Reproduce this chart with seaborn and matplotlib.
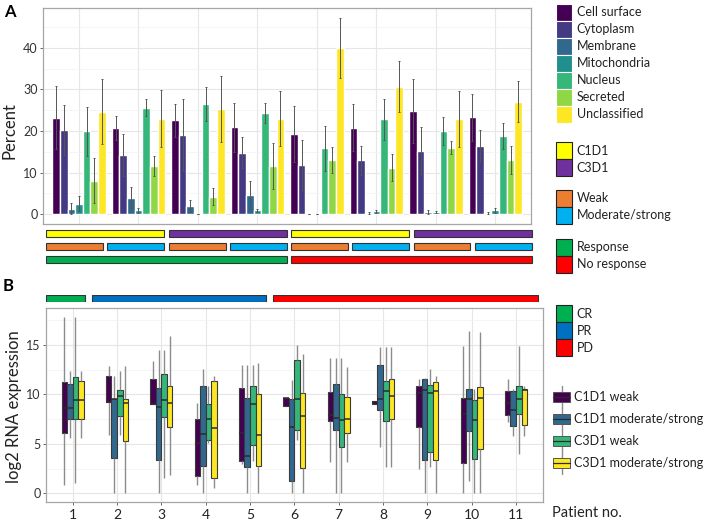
import numpy as np
import pandas as pd
import seaborn as sns
import matplotlib.pyplot as plt
from matplotlib.patches import Patch, Rectangle
from matplotlib.lines import Line2D
from matplotlib.ticker import MultipleLocator

# ---- panel A: predicted subcellular location, 8 sample groups ----
locations = ['Cell surface', 'Cytoplasm', 'Membrane', 'Mitochondria',
             'Nucleus', 'Secreted', 'Unclassified']
loc_colors = ['#440154', '#443A83', '#31688E', '#21908C', '#35B779', '#8FD744', '#FDE725']
sample_ids = ['1', '2', '3', '4', '5', '6', '7', '8']
visit = ['C1D1', 'C1D1', 'C3D1', 'C3D1', 'C1D1', 'C1D1', 'C3D1', 'C3D1']
staining = ['Weak', 'Moderate/strong'] * 4
response = ['Response'] * 4 + ['No response'] * 4

cell_surface = [23.2, 20.7, 22.6, 20.9, 19.3, 20.8, 24.8, 23.3]
cytoplasm = [20.3, 14.3, 19.1, 14.8, 11.8, 13.0, 15.3, 16.4]
membrane = [1.3, 4.0, 2.0, 4.6, 0.0, 0.3, 0.5, 0.3]
mitochondria = [2.5, 0.9, 0.0, 0.9, 0.0, 0.7, 0.5, 1.0]
nucleus = [19.9, 25.6, 26.6, 24.4, 15.9, 22.8, 20.0, 18.8]
secreted = [8.1, 11.6, 4.2, 11.6, 13.0, 11.2, 16.0, 13.0]
unclassified = [24.7, 23.0, 25.3, 23.0, 40.0, 30.7, 22.9, 27.1]

cell_surface_err = [7.6, 2.9, 4.0, 5.9, 6.7, 5.7, 7.7, 5.6]
cytoplasm_err = [6.0, 5.1, 8.7, 3.8, 6.1, 3.5, 5.6, 3.9]
membrane_err = [1.3, 2.6, 1.4, 3.4, 0.0, 0.3, 0.4, 0.2]
mitochondria_err = [1.8, 0.5, 0.0, 0.4, 0.0, 0.4, 0.3, 0.6]
nucleus_err = [5.8, 2.1, 4.1, 2.4, 5.4, 5.0, 3.4, 3.1]
secreted_err = [5.5, 2.5, 2.1, 5.5, 3.2, 3.2, 1.5, 3.4]
unclassified_err = [7.8, 6.8, 7.9, 6.7, 7.2, 6.1, 6.8, 4.9]

# ---- panel B: log2 RNA expression per patient, [min, q1, median, q3, max] ----
patients = ['1', '2', '3', '4', '5', '6', '7', '8', '9', '10', '11']
patient_response = ['CR', 'PR', 'PR', 'PR', 'PR', 'PD', 'PD', 'PD', 'PD', 'PD', 'PD']
box_groups = ['C1D1 weak', 'C1D1 moderate/strong', 'C3D1 weak', 'C3D1 moderate/strong']
box_colors = ['#440154', '#31688E', '#35B779', '#FDE725']

c1d1_weak = [[0.8, 6.15, 8.6, 11.25, 17.8], [5.9, 9.27, 9.27, 11.9, 12.9],
             [9.03, 9.03, 9.05, 11.6, 13.4], [0.8, 1.8, 5.05, 7.55, 9.1],
             [2.95, 3.25, 6.1, 10.6, 13.0], [8.8, 8.8, 9.6, 9.65, 9.65],
             [3.2, 7.3, 7.95, 10.25, 13.65], [9.0, 9.0, 9.2, 9.35, 9.35],
             [2.45, 6.7, 10.15, 10.85, 11.6], [0.0, 3.1, 8.05, 9.6, 14.9],
             [7.2, 7.9, 9.15, 10.35, 11.55]]
c1d1_mod = [[5.55, 7.55, 8.6, 11.05, 12.4], [0.0, 3.55, 9.5, 9.5, 11.9],
            [0.0, 3.35, 8.75, 10.65, 14.5], [0.0, 2.8, 6.0, 10.9, 12.6],
            [0.0, 2.7, 3.8, 9.65, 12.95], [0.0, 1.25, 6.7, 9.55, 11.5],
            [0.0, 6.4, 7.65, 11.05, 13.65], [4.7, 8.45, 9.5, 12.95, 14.75],
            [0.0, 3.4, 10.4, 11.6, 11.7], [1.25, 6.35, 9.5, 10.5, 16.4],
            [5.8, 6.8, 8.4, 10.3, 10.5]]
c3d1_weak = [[1.1, 7.55, 9.45, 11.8, 17.8], [5.9, 7.8, 9.8, 10.45, 12.35],
             [1.6, 7.7, 9.4, 12.05, 14.5], [5.05, 5.35, 7.55, 9.05, 10.9],
             [3.3, 4.9, 9.05, 10.9, 12.95], [5.35, 6.4, 9.5, 13.45, 15.0],
             [0.0, 4.65, 7.45, 10.0, 13.7], [2.7, 7.3, 10.35, 11.4, 14.75],
             [2.7, 4.15, 10.1, 10.95, 12.6], [0.0, 3.45, 7.45, 9.4, 10.5],
             [3.95, 8.0, 9.5, 10.85, 14.85]]
c3d1_mod = [[5.55, 7.55, 9.45, 11.4, 12.4], [0.0, 5.3, 9.15, 9.5, 12.85],
            [1.85, 6.7, 9.15, 10.85, 15.95], [0.5, 1.55, 6.6, 11.35, 11.9],
            [0.0, 2.8, 5.85, 10.0, 13.2], [0.0, 2.55, 7.85, 10.1, 14.1],
            [3.2, 6.1, 7.5, 9.7, 12.8], [2.7, 7.55, 9.8, 11.55, 14.75],
            [0.0, 3.4, 10.35, 11.3, 11.85], [0.0, 4.5, 9.6, 10.75, 16.35],
            [5.75, 6.95, 10.4, 10.55, 10.8]]

strip_colors = {'C1D1': '#FFFF00', 'C3D1': '#7030A0', 'Weak': '#ED7D31',
                'Moderate/strong': '#00B0F0', 'Response': '#00B050', 'No response': '#FF0000',
                'CR': '#00B050', 'PR': '#0070C0', 'PD': '#FF0000'}

# ---- long tables ----
means = [cell_surface, cytoplasm, membrane, mitochondria, nucleus, secreted, unclassified]
errs = [cell_surface_err, cytoplasm_err, membrane_err, mitochondria_err,
        nucleus_err, secreted_err, unclassified_err]
bar_df = pd.DataFrame([(s, loc, m[i]) for loc, m in zip(locations, means)
                       for i, s in enumerate(sample_ids)], columns=['sample', 'location', 'pct'])
box_df = pd.DataFrame([(p, g, v) for g, arr in zip(box_groups, [c1d1_weak, c1d1_mod, c3d1_weak, c3d1_mod])
                       for p, five in zip(patients, arr) for v in five],
                      columns=['patient', 'group', 'value'])

sns.set_style('white')
plt.rcParams['font.family'] = ['Lato', 'DejaVu Sans']
TXT = '#222222'
W, H = 707, 522
fig = plt.figure(figsize=(W / 100, H / 100), dpi=100)


def px_axes(left, top, right, bottom):
    return fig.add_axes([left / W, 1 - bottom / H, (right - left) / W, (bottom - top) / H])


def style_panel(ax, minor):
    ax.yaxis.set_minor_locator(MultipleLocator(minor))
    ax.grid(which='major', color='#E6E6E6', lw=0.8)
    ax.grid(which='minor', axis='y', color='#F2F2F2', lw=0.5)
    ax.set_axisbelow(True)
    for sp in ax.spines.values():
        sp.set_color('#A6A6A6'); sp.set_linewidth(0.9)
    ax.tick_params(axis='y', which='major', length=2.5, width=0.7, color='#666666',
                   labelsize=9, labelcolor='#333333', pad=1.5, left=True)
    ax.tick_params(which='minor', length=0)
    ax.set_xlabel(''); ax.set_ylabel('')


def draw_runs(ax, labels, row, gap, height):
    """One rectangle per run of equal consecutive labels."""
    start = 0
    for i in range(1, len(labels) + 1):
        if i == len(labels) or labels[i] != labels[start]:
            ax.barh(row, i - start - gap, left=start, height=height,
                    color=strip_colors[labels[start]], edgecolor='#333333', linewidth=0.8)
            start = i


# ---- panel A bars ----
axA = px_axes(43.3, 8, 531, 224)
sns.barplot(bar_df, x='sample', y='pct', hue='location', order=sample_ids, hue_order=locations,
            palette=loc_colors, width=0.9, saturation=1, errorbar=None, legend=False, ax=axA)
for cont, err, m in zip(axA.containers, errs, means):
    xs = [b.get_x() + b.get_width() / 2 for b in cont]
    axA.errorbar(xs, m, yerr=err, fmt='none', ecolor='#555555', elinewidth=0.7, capsize=1, capthick=0.7)
axA.set_xlim(-0.6, 7.6); axA.set_ylim(-2.36, 49.6)
axA.set_yticks([0, 10, 20, 30, 40])
style_panel(axA, 5)
axA.tick_params(axis='x', length=0, labelbottom=False)

# annotation strips under A
axS = px_axes(46.3, 227, 46.3 + 8 * 61.2, 266)
for row, labels in enumerate([visit, staining, response]):
    draw_runs(axS, labels, row, 0.07, 0.56)
axS.set_xlim(0, 8); axS.set_ylim(2.5, -0.5); axS.axis('off')

# ---- panel B boxes ----
axB = px_axes(46.1, 308.3, 542.6, 502.3)
sns.boxplot(box_df, x='patient', y='value', hue='group', order=patients, hue_order=box_groups,
            palette=box_colors, width=0.5, whis=(0, 100), showcaps=False, fliersize=0,
            saturation=1, linecolor='#3A3A3A', linewidth=0.8, legend=False,
            whiskerprops={'color': '#8C8C8C', 'linewidth': 1.0},
            medianprops={'color': '#2B2B2B', 'linewidth': 1.1}, ax=axB)
axB.set_xlim(-0.6, 10.6); axB.set_ylim(-0.9, 18.7)
axB.set_yticks([0, 5, 10, 15])
style_panel(axB, 2.5)
axB.tick_params(axis='x', length=2.5, width=0.7, color='#666666', labelsize=10,
                labelcolor='#222222', pad=2, bottom=True)

# response strip above B
axR = px_axes(46.3, 294.5, 46.3 + 11 * 45.3, 302)
draw_runs(axR, patient_response, 0, 0.144, 0.9)
axR.set_xlim(0, 11); axR.set_ylim(-0.5, 0.5); axR.axis('off')

# ---- labels ----
fig.text(9.5 / W, 1 - 12 / H, 'A', fontsize=12, fontweight='bold', color='black', ha='center', va='center')
fig.text(8.5 / W, 1 - 286 / H, 'B', fontsize=12, fontweight='bold', color='black', ha='center', va='center')
fig.text(10 / W, 1 - 131 / H, 'Percent', rotation=90, fontsize=12, color=TXT, ha='center', va='center')
fig.text(14 / W, 1 - 407 / H, 'log2 RNA expression', rotation=90, fontsize=12, color=TXT,
         ha='center', va='center')
fig.text(552 / W, 1 - 513 / H, 'Patient no.', fontsize=10.5, color=TXT, ha='left', va='center')


# ---- legends ----
class BoxKey:
    def __init__(self, color):
        self.color = color


class BoxKeyHandler:
    def legend_artist(self, legend, orig_handle, fontsize, handlebox):
        x0, y0 = -handlebox.xdescent, -handlebox.ydescent
        w, h = handlebox.width, handlebox.height
        tr = handlebox.get_transform()
        handlebox.add_artist(Line2D([x0 + w / 2] * 2, [y0, y0 + h], color='#8C8C8C', lw=1, transform=tr))
        handlebox.add_artist(Rectangle((x0, y0 + h * 0.27), w, h * 0.46, facecolor=orig_handle.color,
                                       edgecolor='#555555', lw=0.7, transform=tr))
        handlebox.add_artist(Line2D([x0, x0 + w], [y0 + h / 2] * 2, color='#2B2B2B', lw=0.9, transform=tr))
        return handlebox


FS = 9
fs_px = FS * 100 / 72


def key_height(px):
    # matplotlib handle box height = fs*hh - 0.35*fs*(hh - 0.7)
    return (px / fs_px - 0.245) / 0.65


leg_kw = dict(loc='upper left', frameon=False, borderpad=0, borderaxespad=0, fontsize=FS,
              labelspacing=0, handletextpad=4.4 / fs_px, labelcolor=TXT)


def add_legend(labels, colors, top, edge):
    handles = [Patch(facecolor=c, edgecolor=edge, linewidth=0.8) for c in colors]
    fig.legend(handles, labels, bbox_to_anchor=(555.7 / W, 1 - top / H),
               handlelength=16.7 / fs_px, handleheight=key_height(17), **leg_kw)


add_legend(locations, loc_colors, 3.7, 'white')
add_legend(['C1D1', 'C3D1'], [strip_colors['C1D1'], strip_colors['C3D1']], 142.3, '#222222')
add_legend(['Weak', 'Moderate/strong'], [strip_colors['Weak'], strip_colors['Moderate/strong']], 189.5, '#222222')
add_legend(['Response', 'No response'], [strip_colors['Response'], strip_colors['No response']], 238.5, '#222222')
add_legend(['CR', 'PR', 'PD'], [strip_colors['CR'], strip_colors['PR'], strip_colors['PD']], 305, '#222222')

fig.legend([BoxKey(c) for c in box_colors], box_groups, handler_map={BoxKey: BoxKeyHandler()},
           bbox_to_anchor=(553 / W, 1 - 385.7 / H), handlelength=17 / fs_px, handleheight=key_height(22),
           **leg_kw)

fig.savefig('out.png', dpi=100)
